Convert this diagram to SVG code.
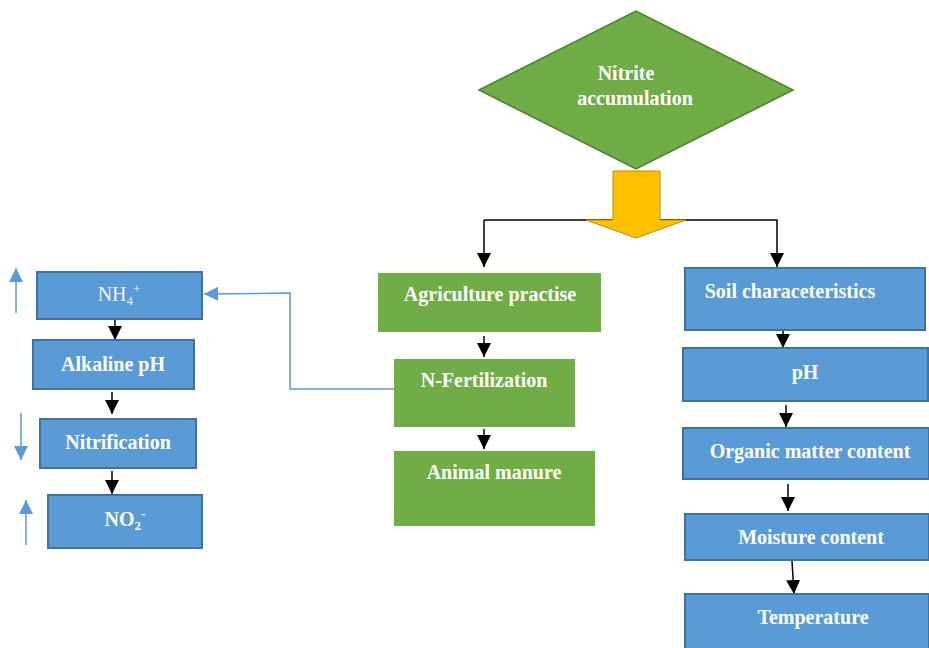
<svg xmlns="http://www.w3.org/2000/svg" width="929" height="648" viewBox="0 0 929 648">
<defs>
<style>
.blue{fill:#5B9BD5;stroke:#41719C;stroke-width:2}
.green{fill:#70AD47;stroke:none}
.t{font-family:"Liberation Serif","Times New Roman",serif;font-weight:bold;font-size:20px;fill:#FFFFFF;text-anchor:middle}
.tr{font-family:"Liberation Serif","Times New Roman",serif;font-size:20px;fill:#F2F2F2;text-anchor:middle}
.blk{stroke:#000;stroke-width:1.5;fill:none}
.bl{stroke:#5B9BD5;stroke-width:1.5;fill:none}
</style>
<marker id="ah" viewBox="0 0 10 10" refX="10" refY="5" markerWidth="14" markerHeight="14" markerUnits="userSpaceOnUse" orient="auto">
<path d="M0,0 L10,5 L0,10 z" fill="#000"/>
</marker>
<marker id="ab" viewBox="0 0 10 10" refX="10" refY="5" markerWidth="14" markerHeight="14" markerUnits="userSpaceOnUse" orient="auto">
<path d="M0,0 L10,5 L0,10 z" fill="#5B9BD5"/>
</marker>
</defs>

<g id="connectors">
<polyline class="blk" points="484,220 777,220 777,267" marker-end="url(#ah)"/>
<line class="blk" x1="484" y1="220" x2="484" y2="267" marker-end="url(#ah)"/>
<line class="blk" x1="484" y1="336" x2="484" y2="357" marker-end="url(#ah)"/>
<line class="blk" x1="484" y1="429" x2="484" y2="449" marker-end="url(#ah)"/>
<line class="blk" x1="115" y1="320" x2="115" y2="340" marker-end="url(#ah)"/>
<line class="blk" x1="112" y1="392" x2="112" y2="414" marker-end="url(#ah)"/>
<line class="blk" x1="112" y1="471" x2="112" y2="494" marker-end="url(#ah)"/>
<line class="blk" x1="783" y1="331" x2="783" y2="348" marker-end="url(#ah)"/>
<line class="blk" x1="786" y1="405" x2="786" y2="427" marker-end="url(#ah)"/>
<line class="blk" x1="788" y1="484" x2="788" y2="511" marker-end="url(#ah)"/>
<line class="blk" x1="792" y1="561" x2="794" y2="594" marker-end="url(#ah)"/>
<polyline class="bl" points="394,389 290,389 290,293 204,294" marker-end="url(#ab)"/>
<line class="bl" x1="16" y1="313" x2="16" y2="268" marker-end="url(#ab)"/>
<line class="bl" x1="21" y1="413" x2="21" y2="460" marker-end="url(#ab)"/>
<line class="bl" x1="26" y1="545" x2="26" y2="500" marker-end="url(#ab)"/>
</g>

<g id="nitrite">
<polygon points="479,90 636,11 793,90 636,169" fill="#70AD47" stroke="#507E32" stroke-width="1.5"/>
<text class="t" x="626" y="80">Nitrite</text>
<text class="t" x="635" y="105">accumulation</text>
</g>

<g id="bigarrow">
<polygon points="613,171 660,171 660,220 686,220 636,238 586,220 613,220" fill="#FFC000" stroke="#BC8C00" stroke-width="1"/>
</g>

<g id="agri"><rect class="green" x="378" y="273" width="223" height="59"/><text class="t" x="490" y="301">Agriculture practise</text></g>
<g id="nfert"><rect class="green" x="394" y="359" width="181" height="68"/><text class="t" x="484" y="387">N-Fertilization</text></g>
<g id="manure"><rect class="green" x="394" y="451" width="201" height="75"/><text class="t" x="494" y="479">Animal manure</text></g>

<g id="nh4"><rect class="blue" x="37" y="272" width="165" height="47"/><text class="tr" x="119" y="301">NH<tspan font-size="13" dy="4">4</tspan><tspan font-size="13" dy="-12">+</tspan></text></g>
<g id="alk"><rect class="blue" x="33" y="340" width="161" height="49"/><text class="t" x="113" y="371">Alkaline pH</text></g>
<g id="nitr"><rect class="blue" x="40" y="419" width="156" height="49"/><text class="t" x="118" y="449">Nitrification</text></g>
<g id="no2"><rect class="blue" x="48" y="495" width="154" height="53"/><text class="t" x="125" y="526">NO<tspan font-size="13" dy="4">2</tspan><tspan font-size="13" dy="-12">-</tspan></text></g>

<g id="soil"><rect class="blue" x="685" y="268" width="240" height="62"/><text class="t" x="790" y="298">Soil characeteristics</text></g>
<g id="ph"><rect class="blue" x="683" y="348" width="245" height="53"/><text class="t" x="805" y="379">pH</text></g>
<g id="organic"><rect class="blue" x="683" y="428" width="246" height="51"/><text class="t" x="810" y="458">Organic matter content</text></g>
<g id="moisture"><rect class="blue" x="685" y="514" width="244" height="46"/><text class="t" x="811" y="544">Moisture content</text></g>
<g id="temp"><rect class="blue" x="685" y="594" width="244" height="56"/><text class="t" x="813" y="624">Temperature</text></g>
</svg>
